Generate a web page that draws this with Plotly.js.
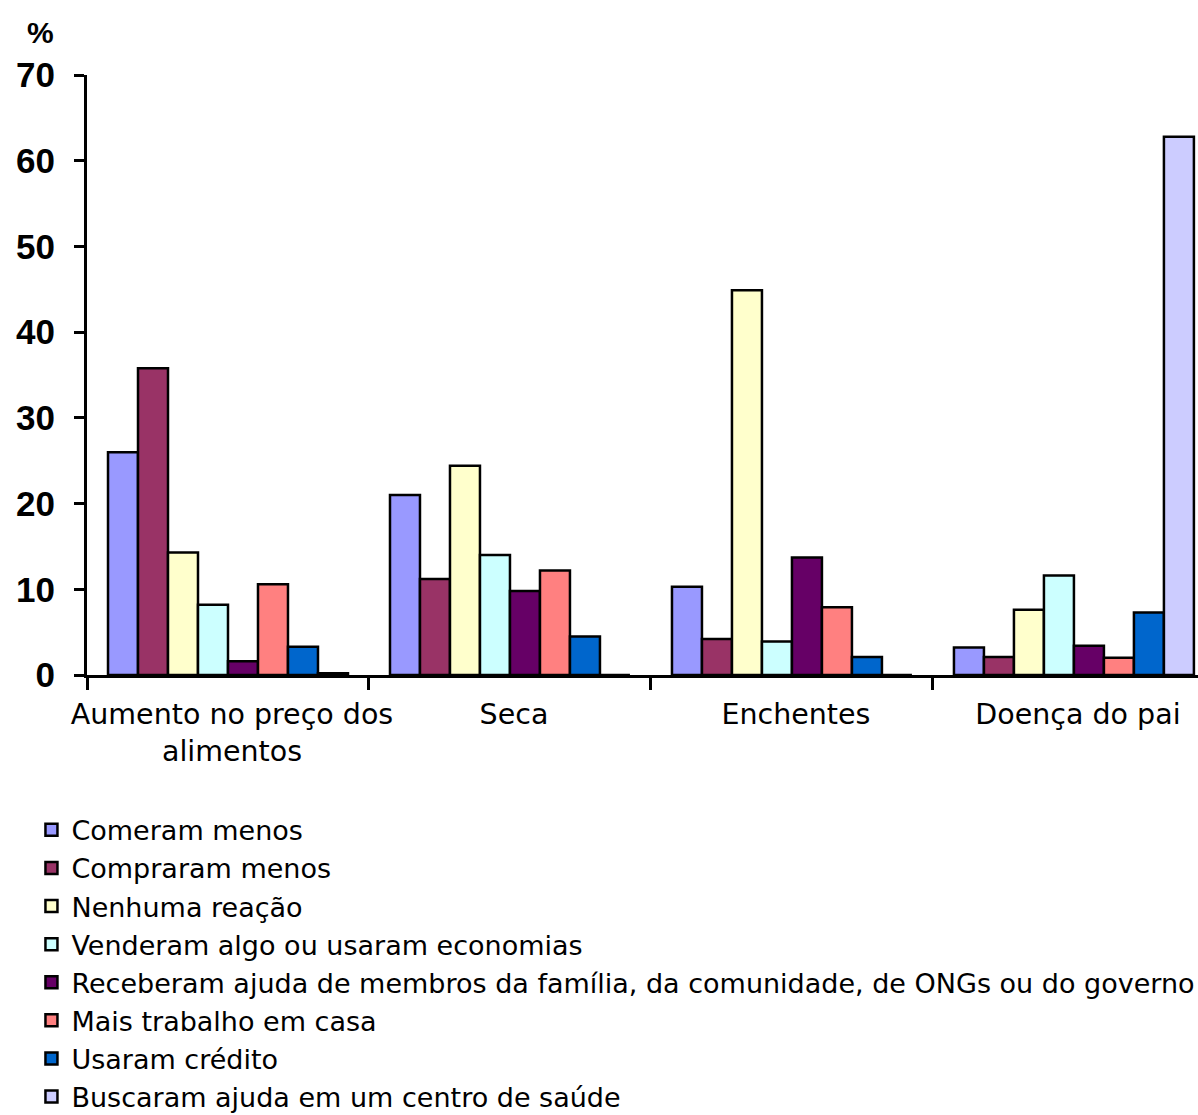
<!DOCTYPE html>
<html>
<head>
<meta charset="utf-8">
<script src="https://cdn.plot.ly/plotly-3.0.1.min.js"></script>
<style>html,body{margin:0;padding:0;background:#fff;}#chart{width:1198px;height:1115px;}</style>
</head>
<body>
<div id="chart"></div>
<script>
const categories = ["Aumento no preço dos<br>alimentos", "Seca", "Enchentes", "Doença do pai"];
const seriesNames = [
  "Comeram menos",
  "Compraram menos",
  "Nenhuma reação",
  "Venderam algo ou usaram economias",
  "Receberam ajuda de membros da família, da comunidade, de ONGs ou do governo",
  "Mais trabalho em casa",
  "Usaram crédito",
  "Buscaram ajuda em um centro de saúde"
];
const comeramMenos    = [26, 21, 10.3, 3.2];
const compraramMenos  = [35.8, 11.2, 4.2, 2.1];
const nenhumaReacao   = [14.3, 24.4, 44.9, 7.6];
const venderam        = [8.2, 14.0, 3.9, 11.6];
const receberamAjuda  = [1.6, 9.8, 13.7, 3.4];
const maisTrabalho    = [10.6, 12.2, 7.9, 2.0];
const usaramCredito   = [3.3, 4.5, 2.1, 7.3];
const buscaramAjuda   = [0.2, 0, 0, 62.8];
const seriesValues = [comeramMenos, compraramMenos, nenhumaReacao, venderam, receberamAjuda, maisTrabalho, usaramCredito, buscaramAjuda];
const colors = ["#9999FF", "#993366", "#FFFFCC", "#CCFFFF", "#660066", "#FF8080", "#0066CC", "#CCCCFF"];

const traces = seriesNames.map((n, i) => ({
  type: "bar",
  name: n,
  x: categories,
  y: seriesValues[i],
  marker: {color: colors[i], line: {color: "#000", width: 2.5}},
  hoverinfo: "skip"
}));

const textFont = "'DejaVu Sans', 'Open Sans', sans-serif";

const layout = {
  width: 1198, height: 1115,
  margin: {l: 87, r: 0, t: 75, b: 440, autoexpand: false},
  paper_bgcolor: "#fff", plot_bgcolor: "#fff",
  barmode: "group", bargap: 0.149, bargroupgap: 0,
  showlegend: true,
  font: {family: textFont, color: "#000"},
  xaxis: {
    type: "category",
    range: [-0.5, 3.44],
    automargin: false,
    tickangle: 0,
    tickson: "boundaries",
    ticks: "outside", ticklen: 12, tickwidth: 3, tickcolor: "#000",
    ticklabelstandoff: 12,
    ticklabelshift: 4,
    showline: true, linewidth: 3, linecolor: "#000",
    showgrid: false, zeroline: false,
    tickfont: {family: textFont, size: 28.5, color: "#000"}
  },
  yaxis: {
    range: [0, 70], dtick: 10, tick0: 0,
    automargin: false,
    ticks: "outside", ticklen: 10, tickwidth: 3, tickcolor: "#000",
    ticklabelstandoff: 12,
    showline: true, linewidth: 3, linecolor: "#000",
    showgrid: false, zeroline: false,
    tickfont: {family: "'Liberation Sans', Arial, sans-serif", size: 35, color: "#000", weight: "bold"}
  },
  legend: {
    x: -0.05, xanchor: "left", y: -0.218, yanchor: "top",
    orientation: "v", traceorder: "normal",
    font: {family: textFont, size: 27, color: "#000"},
    bgcolor: "rgba(0,0,0,0)", tracegroupgap: 0, itemwidth: 30
  },
  annotations: [{
    text: "<b>%</b>", xref: "paper", yref: "paper",
    x: -0.042, y: 1.07, xanchor: "center", yanchor: "middle",
    showarrow: false,
    font: {family: "'Liberation Sans', Arial, sans-serif", size: 30, color: "#000"}
  }]
};

Plotly.newPlot("chart", traces, layout, {displayModeBar: false, staticPlot: true});
</script>
</body>
</html>
